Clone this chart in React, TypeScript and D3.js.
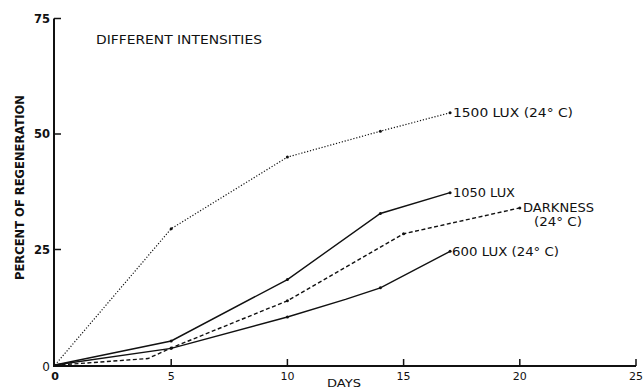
import React from "react";
import * as d3 from "d3";

const xTicks = [0, 5, 10, 15, 20, 25];
const yTicks = [0, 25, 50, 75];

const lux1500Days = [0, 5, 10, 14, 17];
const lux1500Vals = [0, 29.5, 45, 50.6, 54.6];

const lux1050Days = [0, 5, 10, 14, 17];
const lux1050Vals = [0, 5.2, 18.5, 32.8, 37.3];

const darkDays = [0, 1, 4, 5, 10, 15, 20];
const darkVals = [0, 0.3, 1.4, 3.7, 13.9, 28.4, 34];

const lux600Days = [0, 5, 10, 12.5, 14, 17];
const lux600Vals = [0, 3.6, 10.4, 14.2, 16.7, 24.6];

const series = [
  { name: "1500", days: lux1500Days, vals: lux1500Vals, dash: "1.2 1.8", width: 1.2, marks: [1, 2, 3, 4] },
  { name: "1050", days: lux1050Days, vals: lux1050Vals, dash: "", width: 1.4, marks: [1, 2, 3, 4] },
  { name: "dark", days: darkDays, vals: darkVals, dash: "4 2.5", width: 1.4, marks: [3, 4, 5, 6] },
  { name: "600", days: lux600Days, vals: lux600Vals, dash: "", width: 1.4, marks: [1, 2, 4, 5] },
];

export default function App() {
  const W = 643, H = 391;
  const x = d3.scaleLinear().domain([0, 25]).range([55, 636]);
  const y = d3.scaleLinear().domain([0, 75]).range([365, 18.5]);
  const line = d3.line<[number, number]>().x(d => x(d[0])).y(d => y(d[1]));
  const font = "'DejaVu Sans', 'Liberation Sans', sans-serif";
  const lbl = { fontFamily: font, fontSize: 11.5, fill: "#111" } as const;

  return (
    <svg width={W} height={H} style={{ position: "absolute", left: 0, top: 0, background: "#fff" }}>
      {/* axes */}
      <line x1={x(0) - 1} x2={x(0) - 1} y1={y(75)} y2={y(0) + 1} stroke="#111" strokeWidth={2} />
      <line x1={x(0) - 2} x2={x(25)} y1={y(0) + 1} y2={y(0) + 1} stroke="#111" strokeWidth={2} />
      {yTicks.filter(t => t > 0).map(t => (
        <g key={"y" + t}>
          <line x1={x(0) - 1} x2={x(0) + 6} y1={y(t)} y2={y(t)} stroke="#111" strokeWidth={1.5} />
          <text x={x(0) - 5} y={y(t)} dy="0.38em" textAnchor="end" style={{ ...lbl, fontWeight: "bold", fontSize: 11.5 }}>{t}</text>
        </g>
      ))}
      <text x={x(0) - 5} y={y(0) + 1} dy="0.38em" textAnchor="end" style={{ ...lbl, fontSize: 12 }}>0</text>
      {xTicks.map(t => (
        <g key={"x" + t}>
          {t > 0 && <line x1={x(t)} x2={x(t)} y1={y(0) + 1} y2={y(0) - 6} stroke="#111" strokeWidth={1.5} />}
          <text x={x(t)} y={y(0) + 15} textAnchor="middle" style={{ ...lbl, fontSize: 11, fontWeight: t === 0 ? "bold" : "normal" }}>{t}</text>
        </g>
      ))}
      <text x={344} y={387} textAnchor="middle" textLength={34} lengthAdjust="spacingAndGlyphs" style={{ ...lbl, fontSize: 11 }}>DAYS</text>
      <text transform={`translate(24, 187.5) rotate(-90)`} textAnchor="middle" textLength={185} lengthAdjust="spacingAndGlyphs" style={{ ...lbl, fontSize: 12.5, fontWeight: "bold" }}>PERCENT OF REGENERATION</text>
      <text x={96} y={44} textLength={166} lengthAdjust="spacingAndGlyphs" style={{ ...lbl, fontSize: 11.5 }}>DIFFERENT INTENSITIES</text>

      {series.map(s => {
        const pts = s.days.map((d, i) => [d, s.vals[i]] as [number, number]);
        return (
          <g key={s.name}>
            <path d={line(pts) || ""} fill="none" stroke="#111" strokeWidth={s.width} strokeDasharray={s.dash || undefined} />
            {s.marks.map(i => (
              <circle key={i} cx={x(pts[i][0])} cy={y(pts[i][1])} r={1.5} fill="#111" />
            ))}
          </g>
        );
      })}

      <text x={453} y={y(54.6)} dy="0.38em" textLength={120} lengthAdjust="spacingAndGlyphs" style={lbl}>1500 LUX  (24° C)</text>
      <text x={453} y={y(37.3)} dy="0.38em" textLength={62} lengthAdjust="spacingAndGlyphs" style={lbl}>1050 LUX</text>
      <text x={523} y={y(34)} dy="0.38em" textLength={71} lengthAdjust="spacingAndGlyphs" style={lbl}>DARKNESS</text>
      <text x={534} y={y(34) + 14} dy="0.38em" textLength={48} lengthAdjust="spacingAndGlyphs" style={lbl}>(24°  C)</text>
      <text x={452} y={y(24.6)} dy="0.38em" textLength={107} lengthAdjust="spacingAndGlyphs" style={lbl}>600 LUX  (24° C)</text>
    </svg>
  );
}
